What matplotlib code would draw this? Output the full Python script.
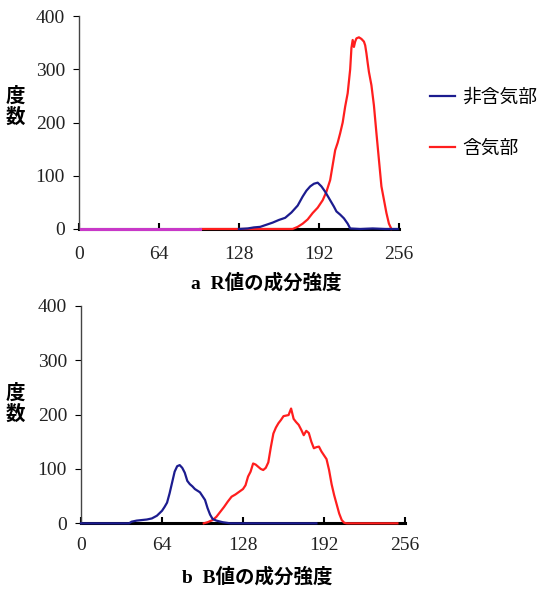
import matplotlib
matplotlib.use("Agg")
import matplotlib.pyplot as plt

# a: R値 histogram
r_blue_x = [128, 135, 140, 145, 150, 155, 160, 165, 170, 175, 179, 182, 185, 188, 191,
            194, 197, 201, 204, 206, 209, 212, 215, 217, 225, 235, 245, 255]
r_blue_y = [0, 1, 3, 4, 8, 12, 17, 21, 31, 44, 61, 72, 80, 85, 87,
            80, 70, 54, 42, 33, 27, 20, 10, 1, 0, 1, 0, 0]

r_red_x = [97, 120, 150, 165, 171, 175, 179, 183, 187, 191, 195, 198, 201, 203, 205,
           207, 209, 211, 213, 215, 217, 218, 219, 220, 221, 222, 224, 226, 228, 229,
           230, 231, 232, 234, 236, 238, 240, 242, 244, 246, 248, 250]
r_red_y = [0, 0, 0, 0, 0, 4, 10, 18, 30, 40, 54, 70, 92, 120, 148,
           162, 180, 200, 230, 255, 300, 340, 355, 342, 352, 358, 360, 357, 352, 345,
           330, 312, 295, 270, 232, 180, 130, 80, 55, 30, 10, 0]

r_mix_x = [2, 97]
r_mix_y = [0, 0]

# b: B値 histogram
b_blue_x = [0, 38, 40, 44, 48, 52, 56, 60, 64, 66, 68, 70, 72, 74, 76, 78, 80, 82,
            84, 86, 88, 90, 92, 94, 96, 98, 100, 102, 104, 107, 112, 118, 186]
b_blue_y = [0, 0, 3, 5, 6, 7, 9, 14, 23, 30, 38, 55, 75, 95, 105, 107, 102, 93,
            78, 72, 68, 63, 60, 57, 50, 43, 28, 16, 8, 5, 2, 0, 0]

b_red_x = [97, 100, 104, 107, 110, 113, 116, 119, 122, 125, 128, 130, 132, 134, 136,
           138, 140, 142, 144, 146, 148, 150, 152, 154, 156, 158, 160, 162, 164, 166,
           168, 170, 172, 174, 176, 178, 180, 182, 184, 186, 188, 190, 192, 194, 196,
           198, 200, 202, 204, 206, 208, 210, 250]
b_red_y = [0, 2, 6, 12, 21, 30, 40, 49, 53, 58, 63, 70, 86, 95, 110,
           108, 104, 100, 98, 102, 112, 140, 165, 176, 184, 190, 197, 198, 199, 211,
           192, 186, 181, 172, 162, 170, 166, 150, 138, 140, 141, 132, 125, 118, 98,
           72, 52, 35, 18, 6, 1, 0, 0]

x_ticks = [0, 64, 128, 192, 256]
y_ticks = [0, 100, 200, 300, 400]
labels = ["非含気部", "含気部"]

BLUE = "#1c1c8f"
RED = "#ff1e1e"
MIX = "#c838c8"
serif = ["Liberation Serif", "Noto Sans CJK JP"]
cjk = ["Noto Sans CJK JP", "DejaVu Sans"]

plt.rcParams["font.family"] = serif


def style_axes(ax, xmax, xpad):
    ax.set_xlim(0, xmax)
    ax.set_ylim(0, 400)
    ax.set_xticks(x_ticks)
    ax.set_yticks(y_ticks)
    for s in ["top", "right"]:
        ax.spines[s].set_visible(False)
    ax.spines["left"].set_color("#444444")
    ax.spines["left"].set_linewidth(1.0)
    ax.spines["bottom"].set_bounds(0, 256)
    ax.spines["bottom"].set_linewidth(2.2)
    ax.spines["bottom"].set_zorder(1)
    ax.tick_params(axis="y", direction="out", length=4, width=0.8, pad=6,
                   labelsize=14, labelcolor="#222222")
    ax.tick_params(axis="x", direction="in", length=4, width=1.5, pad=xpad,
                   labelsize=14, labelcolor="#222222")


fig = plt.figure(figsize=(5.37, 6.05), dpi=100)

ax1 = fig.add_axes([0.147, 0.6215, 0.6145, 0.352])
ax1.plot(r_red_x, r_red_y, color=RED, lw=1.6, clip_on=False, zorder=3, label=labels[1])
ax1.plot(r_blue_x, r_blue_y, color=BLUE, lw=1.6, clip_on=False, zorder=4, label=labels[0])
ax1.plot(r_mix_x, r_mix_y, color=MIX, lw=2.2, clip_on=False, zorder=4)
style_axes(ax1, 264, 12)

ax2 = fig.add_axes([0.1508, 0.135, 0.6034, 0.3597])
ax2.plot(b_red_x, b_red_y, color=RED, lw=1.6, clip_on=False, zorder=3)
ax2.plot(b_blue_x, b_blue_y, color=BLUE, lw=1.6, clip_on=False, zorder=4)
style_axes(ax2, 256, 10)

# y labels (stacked vertically)
for yc in (107, 404):
    fig.text(15 / 537, 1 - yc / 605, "度\n数", ha="center", va="center",
             fontsize=14, fontweight="bold", family=cjk, linespacing=1.1)

# panel captions
fig.text(266 / 537, 1 - 283 / 605, "a  R値の成分強度", ha="center", va="center",
         fontsize=14, fontweight="bold", family=serif)
fig.text(257 / 537, 1 - 577 / 605, "b  B値の成分強度", ha="center", va="center",
         fontsize=14, fontweight="bold", family=serif)

h, l = ax1.get_legend_handles_labels()
fig.legend([h[1], h[0]], [l[1], l[0]], loc="upper left",
           bbox_to_anchor=(430 / 537, 1 - 87 / 605), frameon=False,
           borderpad=0, borderaxespad=0, handlelength=1.35, handletextpad=0.35,
           labelspacing=1.6, prop={"family": cjk, "size": 13.5})

fig.savefig("out.png", dpi=100)
